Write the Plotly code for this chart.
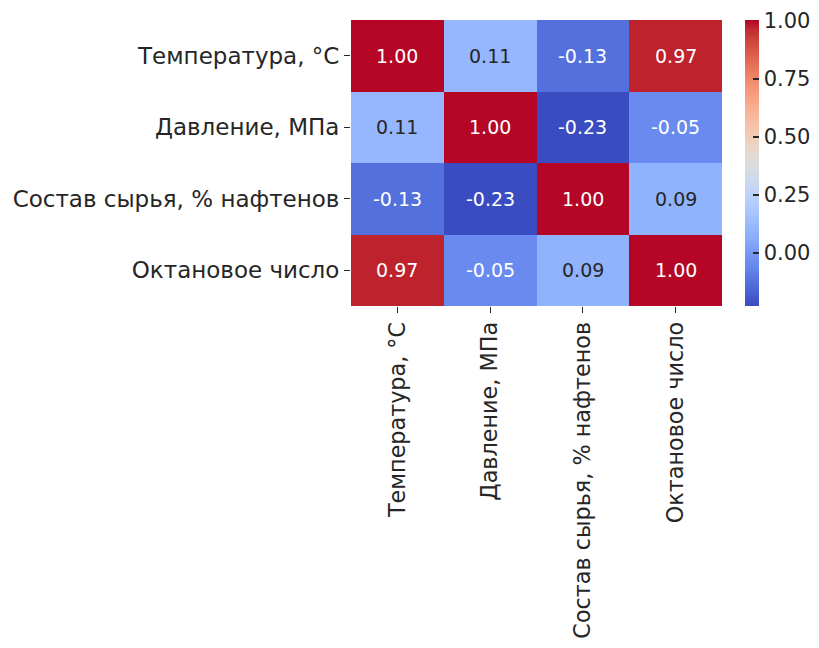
import plotly.graph_objects as go

labels = ["Температура, °C", "Давление, МПа", "Состав сырья, % нафтенов", "Октановое число"]
corr = [
    [1.00, 0.11, -0.13, 0.97],
    [0.11, 1.00, -0.23, -0.05],
    [-0.13, -0.23, 1.00, 0.09],
    [0.97, -0.05, 0.09, 1.00],
]
cbar_ticks = [0.00, 0.25, 0.50, 0.75, 1.00]

coolwarm_rgb = [
    (59, 76, 192), (68, 90, 204), (77, 104, 215), (87, 117, 225), (98, 130, 234),
    (108, 142, 241), (119, 154, 247), (130, 165, 251), (141, 176, 254), (152, 185, 255),
    (163, 194, 255), (174, 201, 253), (184, 208, 249), (194, 213, 244), (204, 217, 238),
    (213, 219, 230), (221, 221, 221), (229, 216, 209), (236, 211, 197), (241, 204, 184),
    (245, 196, 172), (247, 187, 160), (247, 177, 148), (247, 166, 135), (244, 154, 123),
    (241, 141, 111), (236, 127, 99), (229, 112, 88), (222, 96, 77), (213, 80, 66),
    (203, 62, 56), (192, 40, 47), (180, 4, 38),
]
n = len(coolwarm_rgb)
colorscale = [[i / (n - 1), "rgb(%d,%d,%d)" % c] for i, c in enumerate(coolwarm_rgb)]

zmin, zmax = -0.23, 1.002

def text_color(v):
    t = (v - zmin) / (zmax - zmin)
    idx = t * (n - 1)
    i = min(int(idx), n - 2)
    f = idx - i
    c = [coolwarm_rgb[i][k] * (1 - f) + coolwarm_rgb[i + 1][k] * f for k in range(3)]
    def lin(x):
        x = x / 255
        return x / 12.92 if x <= 0.03928 else ((x + 0.055) / 1.055) ** 2.4
    lum = 0.2126 * lin(c[0]) + 0.7152 * lin(c[1]) + 0.0722 * lin(c[2])
    return "#262626" if lum > 0.408 else "white"

font = "DejaVu Sans"

fig = go.Figure(
    go.Heatmap(
        z=corr, x=labels, y=labels,
        zmin=zmin, zmax=zmax,
        colorscale=colorscale,
        colorbar=dict(
            thickness=14, len=1.0, lenmode="fraction",
            x=1.062, xanchor="left", xpad=0, y=0.5, yanchor="middle", ypad=0,
            outlinewidth=0,
            tickvals=cbar_ticks, ticktext=["%.2f" % t for t in cbar_ticks],
            ticks="inside", ticklen=6, tickcolor="#262626", tickwidth=1.5,
            tickfont=dict(family=font, size=21, color="#262626"),
        ),
    )
)

annotations = []
for i, row in enumerate(corr):
    for j, v in enumerate(row):
        annotations.append(dict(
            x=labels[j], y=labels[i], text="%.2f" % v, showarrow=False,
            font=dict(family=font, size=19, color=text_color(v)),
        ))

# page body has an 8px default margin, so the figure is offset by 8px;
# keep the figure inside the 819x648 window (8px margin on each side)
fig.update_layout(
    width=803, height=632,
    margin=dict(l=343, r=89, t=12, b=334, autoexpand=False),
    paper_bgcolor="white", plot_bgcolor="white",
    annotations=annotations,
    font=dict(family=font, color="#262626"),
)
fig.update_xaxes(
    tickangle=-90, ticks="outside", ticklen=6, tickcolor="#262626",
    tickfont=dict(family=font, size=22.3, color="#262626"), showgrid=False, zeroline=False,
)
fig.update_yaxes(
    autorange="reversed", ticks="outside", ticklen=6, tickcolor="#262626",
    tickfont=dict(family=font, size=23, color="#262626"), showgrid=False, zeroline=False,
)

fig.write_html("out.html")
